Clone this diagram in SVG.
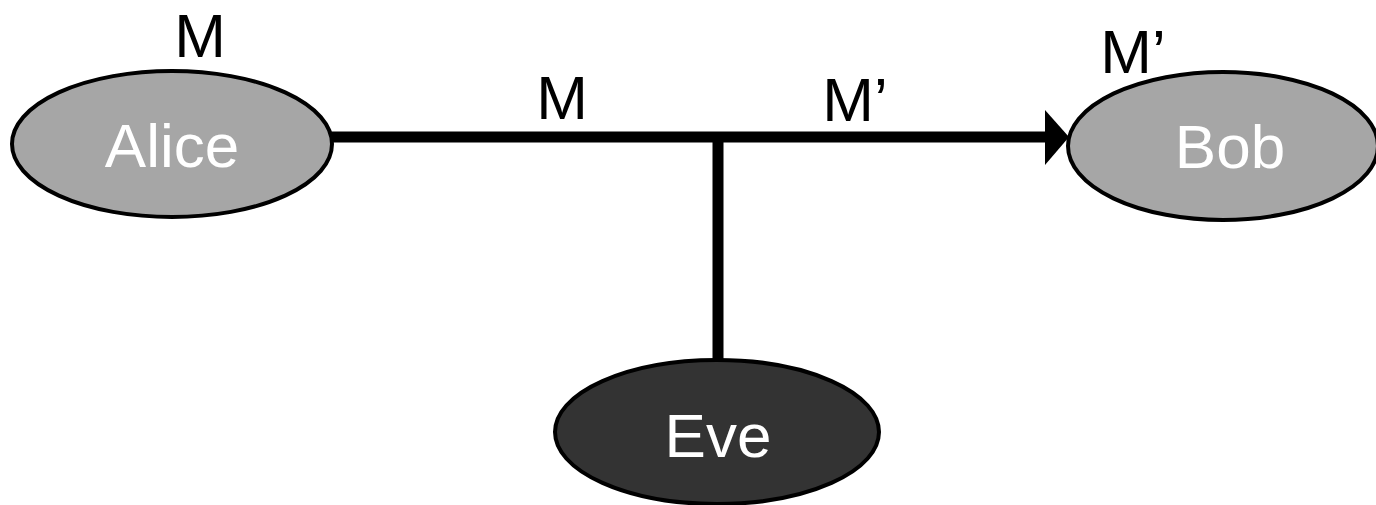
<svg xmlns="http://www.w3.org/2000/svg" width="1376" height="505" viewBox="0 0 1376 505">
<style>
.node{stroke:#000;stroke-width:4}
.light{fill:#a6a6a6}
.dark{fill:#333333}
.name{font-family:"Liberation Sans",Arial,sans-serif;font-size:62px;fill:#fff;text-anchor:middle}
.lbl{font-family:"Liberation Sans",Arial,sans-serif;font-size:62px;fill:#000;text-anchor:middle}
.wire{stroke:#000;stroke-width:11;fill:none}
</style>
<rect width="1376" height="505" fill="#fff"/>
<g id="connectors">
<line class="wire" x1="330" y1="137" x2="1048" y2="137"/>
<polygon points="1045,110 1069,137 1045,165" fill="#000"/>
<line class="wire" x1="718" y1="137" x2="718" y2="362"/>
</g>
<g id="alice">
<ellipse class="node light" cx="172" cy="144" rx="160" ry="73"/>
<text class="name" x="172" y="167">Alice</text>
</g>
<g id="bob">
<ellipse class="node light" cx="1223" cy="146" rx="155" ry="74"/>
<text class="name" x="1230" y="168">Bob</text>
</g>
<g id="eve">
<ellipse class="node dark" cx="717" cy="432" rx="162" ry="72"/>
<text class="name" x="718" y="457">Eve</text>
</g>
<g id="labels">
<text class="lbl" x="200" y="57">M</text>
<text class="lbl" x="562" y="119">M</text>
<text class="lbl" x="855" y="121">M’</text>
<text class="lbl" x="1133" y="73">M’</text>
</g>
</svg>
